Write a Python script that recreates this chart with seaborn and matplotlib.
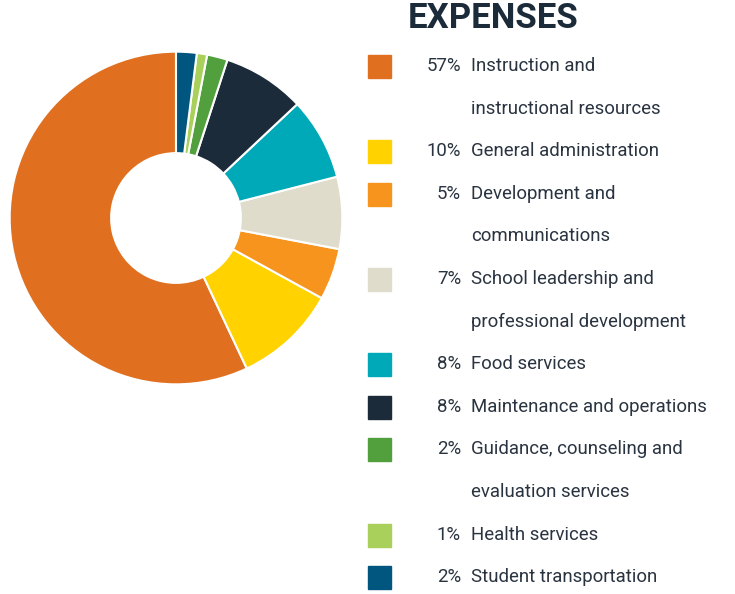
import matplotlib
matplotlib.use("Agg")
import matplotlib.pyplot as plt
import seaborn as sns
from matplotlib.patches import Rectangle

sns.set_theme(style="white")
plt.rcParams['font.family'] = ['Roboto', 'DejaVu Sans']

# Data
categories = [
    "Instruction and\ninstructional resources",
    "General administration",
    "Development and\ncommunications",
    "School leadership and\nprofessional development",
    "Food services",
    "Maintenance and operations",
    "Guidance, counseling and\nevaluation services",
    "Health services",
    "Student transportation",
]
shares = [57, 10, 5, 7, 8, 8, 2, 1, 2]
colors = ["#E07020", "#FFD200", "#F7941D", "#E0DCCB", "#00A9B7",
          "#1C2B3A", "#52A03D", "#A8D05A", "#00567F"]

W, H = 735, 594
fig = plt.figure(figsize=(W / 100, H / 100), dpi=100)

# Donut
ax = fig.add_axes([8 / W, (H - 218 - 168) / H, 336 / W, 336 / H])
ax.pie(shares, colors=colors, startangle=90, counterclock=True,
       wedgeprops=dict(width=0.61, edgecolor="white", linewidth=1.5))
ax.set_xlim(-1.01, 1.01)
ax.set_ylim(-1.01, 1.01)
ax.set_aspect("equal")
ax.axis("off")

# Title
fig.text(408 / W, 1 - 18 / H, "EXPENSES", fontsize=25, fontweight="bold",
         color="#1C2B3A", va="center", ha="left")

# Legend
text_color = "#2A3440"
row_h = 42.6
y = 66
for cat, val, col in zip(categories, shares, colors):
    fig.patches.append(Rectangle((368 / W, 1 - (y + 12) / H), 23 / W, 23 / H,
                                 transform=fig.transFigure, color=col))
    fig.text(461 / W, 1 - y / H, f"{val}%", fontsize=13.4, color=text_color,
             ha="right", va="center")
    for line in cat.split("\n"):
        fig.text(471 / W, 1 - y / H, line, fontsize=13.4, color=text_color,
                 ha="left", va="center")
        y += row_h

fig.savefig("out.png", dpi=100, facecolor="white")
